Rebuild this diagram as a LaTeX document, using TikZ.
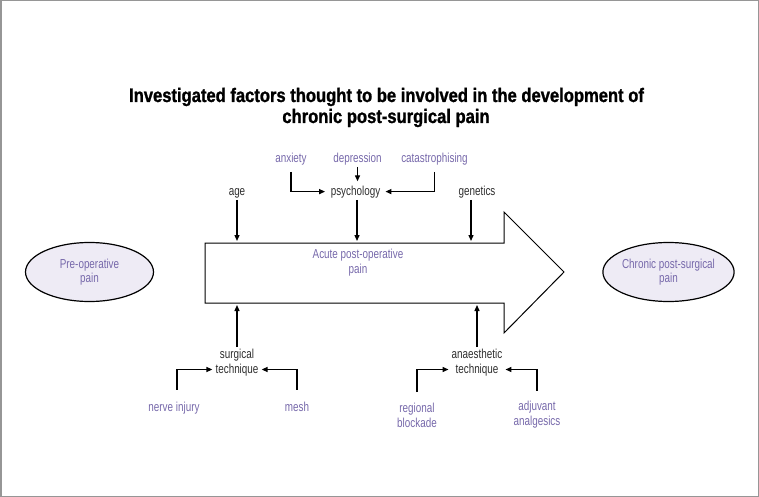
\documentclass[tikz,border=0pt]{standalone}
\usepackage{fontspec}
\setmainfont{Liberation Sans}[FakeStretch=0.76]
\newfontfamily\titlefont{Liberation Sans}[FakeStretch=0.85, BoldFeatures={FakeBold=1.2}]
\usetikzlibrary{arrows.meta,shapes.geometric}
\definecolor{fpurple}{RGB}{118,104,170}
\definecolor{ftext}{RGB}{45,45,45}
\definecolor{efill}{RGB}{238,235,245}
\definecolor{framegray}{RGB}{150,150,150}
\begin{document}
\begin{tikzpicture}[x=1pt,y=-1pt,
  lbl/.style={font=\fontsize{13}{15}\selectfont, text=ftext, inner sep=2pt, text height=9.5pt, text depth=2.7pt},
  plbl/.style={lbl, text=fpurple},
  mlbl/.style={font=\fontsize{13}{15}\selectfont, text=ftext, inner sep=2pt, align=center},
  pmlbl/.style={mlbl, text=fpurple},
  arr/.style={-{Triangle[length=6pt,width=5pt]}, line width=1.3pt, black},
  oval/.style={ellipse, draw=black, line width=1.2pt, fill=efill, minimum width=128pt, minimum height=59pt, inner sep=0pt, align=center, text=fpurple, font=\fontsize{13}{14.5}\selectfont},
  ttl/.style={font=\titlefont\bfseries\fontsize{19.5}{21}\selectfont, anchor=base, inner sep=0pt}
]
\useasboundingbox (0,0) rectangle (759,497);
\draw[framegray, line width=1.5pt] (0.75,0.75) rectangle (758.25,496.25);

% title
\node[ttl] (title1) at (386.5,102) {Investigated factors thought to be involved in the development of};
\node[ttl] (title2) at (386,123) {chronic post-surgical pain};

% big arrow
\coordinate (bl1) at (205,243);
\coordinate (bn1) at (504,243);
\coordinate (bh1) at (504,212);
\coordinate (btip) at (564,272);
\coordinate (bh2) at (504,333);
\coordinate (bn2) at (504,303);
\coordinate (bl2) at (205,303);
\draw[line width=1pt] (bl1) -- (bn1) -- (bh1) -- (btip) -- (bh2) -- (bn2) -- (bl2) -- cycle;
\node[pmlbl] (acute) at (358,263) {Acute post-operative\\pain};

\coordinate (agehit) at (237,241);
\coordinate (psyhit) at (357,241);
\coordinate (genhit) at (471,241);
\coordinate (surghit) at (237,305);
\coordinate (anahit) at (477,305);

% ellipses
\node[oval] (pre) at (89.5,272) {Pre-operative\\pain};
\node[oval] (chronic) at (668.5,272) {Chronic post-surgical\\pain};

% top labels
\node[plbl, anchor=base] (anx) at (291,162) {anxiety};
\node[plbl, anchor=base] (dep) at (357.5,162) {depression};
\node[plbl, anchor=base] (cat) at (434.5,162) {catastrophising};
\node[lbl, anchor=base] (psych) at (355.5,195) {psychology};
\node[lbl, anchor=base] (age) at (237,195) {age};
\node[lbl, anchor=base] (gen) at (477,195) {genetics};

\draw[arr, shorten <=5pt, shorten >=3.5pt] (anx.south) |- (psych.west);
\draw[arr, shorten <=5pt, shorten >=3pt] (cat.south) |- (psych.east);
\draw[arr, shorten >=2pt] (dep.south) -- (dep.south |- psych.north);
\draw[arr] (age.south) -- (agehit);
\draw[arr] (psyhit |- psych.south) -- (psyhit);
\draw[arr] (genhit |- gen.south) -- (genhit);

% bottom labels
\node[mlbl] (surg) at (237,363) {surgical\\technique};
\node[mlbl] (anae) at (477,363) {anaesthetic\\technique};
\node[plbl, anchor=base] (nerve) at (174,411) {nerve injury};
\node[plbl, anchor=base] (mesh) at (297,411) {mesh};
\node[pmlbl] (regional) at (417,415) {regional\\blockade};
\node[pmlbl] (adjuvant) at (537,415) {adjuvant\\analgesics};

\draw[arr] (surg.north) -- (surghit);
\draw[arr] (anae.north) -- (anahit);
\draw[arr, shorten <=9.5pt, shorten >=1pt] ([xshift=3pt]nerve.north) |- ([yshift=-6.5pt]surg.west);
\draw[arr, shorten <=9.5pt, shorten >=1pt] (mesh.north) |- ([yshift=-6.5pt]surg.east);
\draw[arr, shorten <=8.5pt, shorten >=1pt] (regional.north) |- ([yshift=-6.5pt]anae.west);
\draw[arr, shorten <=8.5pt, shorten >=1pt] (adjuvant.north) |- ([yshift=-6.5pt]anae.east);
\end{tikzpicture}
\end{document}
